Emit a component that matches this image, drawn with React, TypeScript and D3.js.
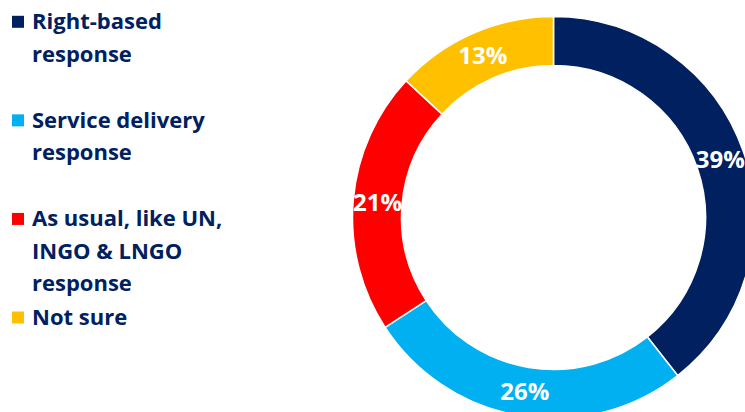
import { useEffect, useRef } from 'react';
import * as d3 from 'd3';

const categories = [
  'Right-based response',
  'Service delivery response',
  'As usual, like UN, INGO & LNGO response',
  'Not sure',
];
const legendLines = [
  ['Right-based', 'response'],
  ['Service delivery', 'response'],
  ['As usual, like UN,', 'INGO & LNGO', 'response'],
  ['Not sure'],
];
const shares = [39.4, 26.4, 21.1, 13.1];
const colors = ['#002060', '#00B0F0', '#FF0000', '#FFC000'];

const WIDTH = 745;
const HEIGHT = 412;
const FONT = '"Open Sans", "DejaVu Sans", sans-serif';

export default function App() {
  const svgRef = useRef<SVGSVGElement>(null);

  useEffect(() => {
    if (!svgRef.current) return;
    const svg = d3.select(svgRef.current);
    svg.selectAll('*').remove();

    // donut
    const cx = 553.5;
    const cy = 217.5;
    const outer = 201;
    const inner = 152;

    const pie = d3.pie<number>().value(d => d).sort(null);
    const arc = d3.arc<d3.PieArcDatum<number>>().innerRadius(inner).outerRadius(outer);
    const labelArc = d3.arc<d3.PieArcDatum<number>>()
      .innerRadius((inner + outer) / 2)
      .outerRadius((inner + outer) / 2);

    const g = svg.append('g').attr('transform', `translate(${cx},${cy})`);
    const arcs = pie(shares);

    g.selectAll('path')
      .data(arcs)
      .enter()
      .append('path')
      .attr('d', arc)
      .attr('fill', (d, i) => colors[i])
      .attr('stroke', '#ffffff')
      .attr('stroke-width', 1.5);

    const fmt = d3.format('.0f');
    g.selectAll('text')
      .data(arcs)
      .enter()
      .append('text')
      .attr('transform', d => {
        const [x, y] = labelArc.centroid(d);
        return `translate(${x},${y})`;
      })
      .attr('text-anchor', 'middle')
      .attr('dy', '0.36em')
      .attr('font-family', FONT)
      .attr('font-weight', 700)
      .attr('font-size', 24)
      .attr('fill', '#ffffff')
      .text(d => `${fmt(d.data)}%`);

    // legend
    const y = d3.scalePoint<string>().domain(categories).range([29.3, 325]);
    const lineStep = 32.5;

    const items = svg.append('g')
      .selectAll('g')
      .data(categories)
      .enter()
      .append('g')
      .attr('transform', d => `translate(0,${y(d)})`);

    items.append('rect')
      .attr('x', 12)
      .attr('y', -13.5)
      .attr('width', 12)
      .attr('height', 12)
      .attr('fill', (d, i) => colors[i]);

    items.append('text')
      .attr('font-family', FONT)
      .attr('font-weight', 700)
      .attr('font-size', 22)
      .attr('fill', '#002060')
      .selectAll('tspan')
      .data((d, i) => legendLines[i])
      .enter()
      .append('tspan')
      .attr('x', 32)
      .attr('y', (d, j) => j * lineStep)
      .text(d => d);
  }, []);

  return (
    <svg
      ref={svgRef}
      width={WIDTH}
      height={HEIGHT}
      style={{ position: 'absolute', left: 0, top: 0, background: '#ffffff' }}
    />
  );
}
